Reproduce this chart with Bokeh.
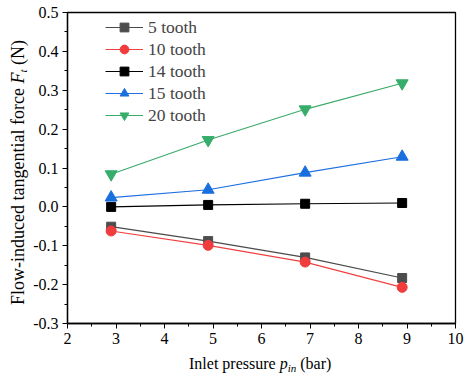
from bokeh.plotting import figure
from bokeh.layouts import row, column
from bokeh.models import (FixedTicker, NumeralTickFormatter, Legend, LegendItem, Range1d, Div)
from bokeh.embed import file_html
from bokeh.resources import INLINE

pressure = [2.9, 4.9, 6.9, 8.9]
tooth_5 = [-0.051, -0.088, -0.130, -0.183]
tooth_10 = [-0.062, -0.099, -0.142, -0.207]
tooth_14 = [0.000, 0.005, 0.008, 0.010]
tooth_15 = [0.024, 0.044, 0.088, 0.129]
tooth_20 = [0.084, 0.172, 0.251, 0.318]
series_names = ["5 tooth", "10 tooth", "14 tooth", "15 tooth", "20 tooth"]
x_ticks = [2, 3, 4, 5, 6, 7, 8, 9, 10]
y_ticks = [-0.3, -0.2, -0.1, 0.0, 0.1, 0.2, 0.3, 0.4, 0.5]

FONT = "Liberation Serif, Times New Roman, serif"
CSS_FONT = "'Liberation Serif','Times New Roman',serif"

YLAB_W = 30          # width of the y-label strip
PW, PH = 440, 352    # figure size
FL, FR, FT, FB = 67, 455, 12, 323  # frame edges in page pixels

p = figure(width=PW, height=PH, output_backend="svg", toolbar_location=None,
           x_range=Range1d(2, 10), y_range=Range1d(-0.3, 0.5),
           min_border_left=FL - YLAB_W, min_border_right=YLAB_W + PW - FR,
           min_border_top=FT, min_border_bottom=PH - FB, margin=0)
p.xgrid.visible = False
p.ygrid.visible = False
p.outline_line_color = "black"
p.outline_line_width = 1.3
p.background_fill_color = "white"
p.border_fill_color = "white"

p.xaxis.ticker = FixedTicker(ticks=x_ticks, minor_ticks=[x + 0.5 for x in x_ticks[:-1]])
p.yaxis.ticker = FixedTicker(ticks=y_ticks, minor_ticks=[y + 0.05 for y in y_ticks[:-1]])
p.yaxis.formatter = NumeralTickFormatter(format="0.0")
for ax in (p.xaxis, p.yaxis):
    ax.axis_line_color = "black"
    ax.axis_line_width = 1.3
    ax.major_tick_line_color = "black"
    ax.minor_tick_line_color = "black"
    ax.major_tick_in = 0
    ax.major_tick_out = 5
    ax.minor_tick_in = 0
    ax.minor_tick_out = 3
    ax.major_label_text_font = FONT
    ax.major_label_text_font_size = "16px"
    ax.major_label_text_color = "black"
    ax.major_label_standoff = 4

specs = [
    (tooth_5, "#4d4d4d", "#4a4a4a", "square", 9),
    (tooth_10, "#f03c3c", "#f04040", "circle", 10),
    (tooth_14, "#000000", "#000000", "square", 9),
    (tooth_15, "#1a6fdf", "#1f70e0", "triangle", 12),
    (tooth_20, "#37ad6b", "#3aaa68", "inverted_triangle", 12),
]
items = []
for (vals, mcol, lcol, marker, size), name in zip(specs, series_names):
    r1 = p.line(pressure, vals, line_color=lcol, line_width=1.2)
    r2 = p.scatter(pressure, vals, marker=marker, size=size, fill_color=mcol,
                   line_color=mcol)
    items.append(LegendItem(label=name, renderers=[r1, r2]))

legend = Legend(items=items, location=(38, 197), glyph_width=38, glyph_height=22,
                label_height=22, spacing=0, padding=0, margin=0, label_standoff=5,
                border_line_color=None, background_fill_alpha=0,
                label_text_font=FONT, label_text_font_size="17.5px")
p.add_layout(legend, "center")

sub_css = "font-size:11px; vertical-align:-3px; font-style:italic"
ylabel = Div(
    width=YLAB_W, height=PH + 28, margin=0,
    text=(f'<div style="position:relative; white-space:nowrap; width:max-content; '
          f'font-family:{CSS_FONT}; font-size:18px; line-height:18px; color:black; '
          f'transform-origin:0 0; transform:translate(9px,305px) rotate(-90deg);">'
          f'Flow-induced tangential force <i>F</i><span style="{sub_css}">t</span> (N)</div>'))
xlabel = Div(
    width=PW, height=28, margin=0,
    text=(f'<div style="position:relative; left:{189 - YLAB_W}px; top:4px; white-space:nowrap; '
          f'width:max-content; font-family:{CSS_FONT}; font-size:16px; line-height:16px; color:black;">'
          f'Inlet pressure <i>p</i><span style="{sub_css}">in</span> (bar)</div>'))

layout = row(ylabel, column(p, xlabel, spacing=0, margin=0), spacing=0, margin=0)
open("out.html", "w").write(file_html(layout, INLINE))
